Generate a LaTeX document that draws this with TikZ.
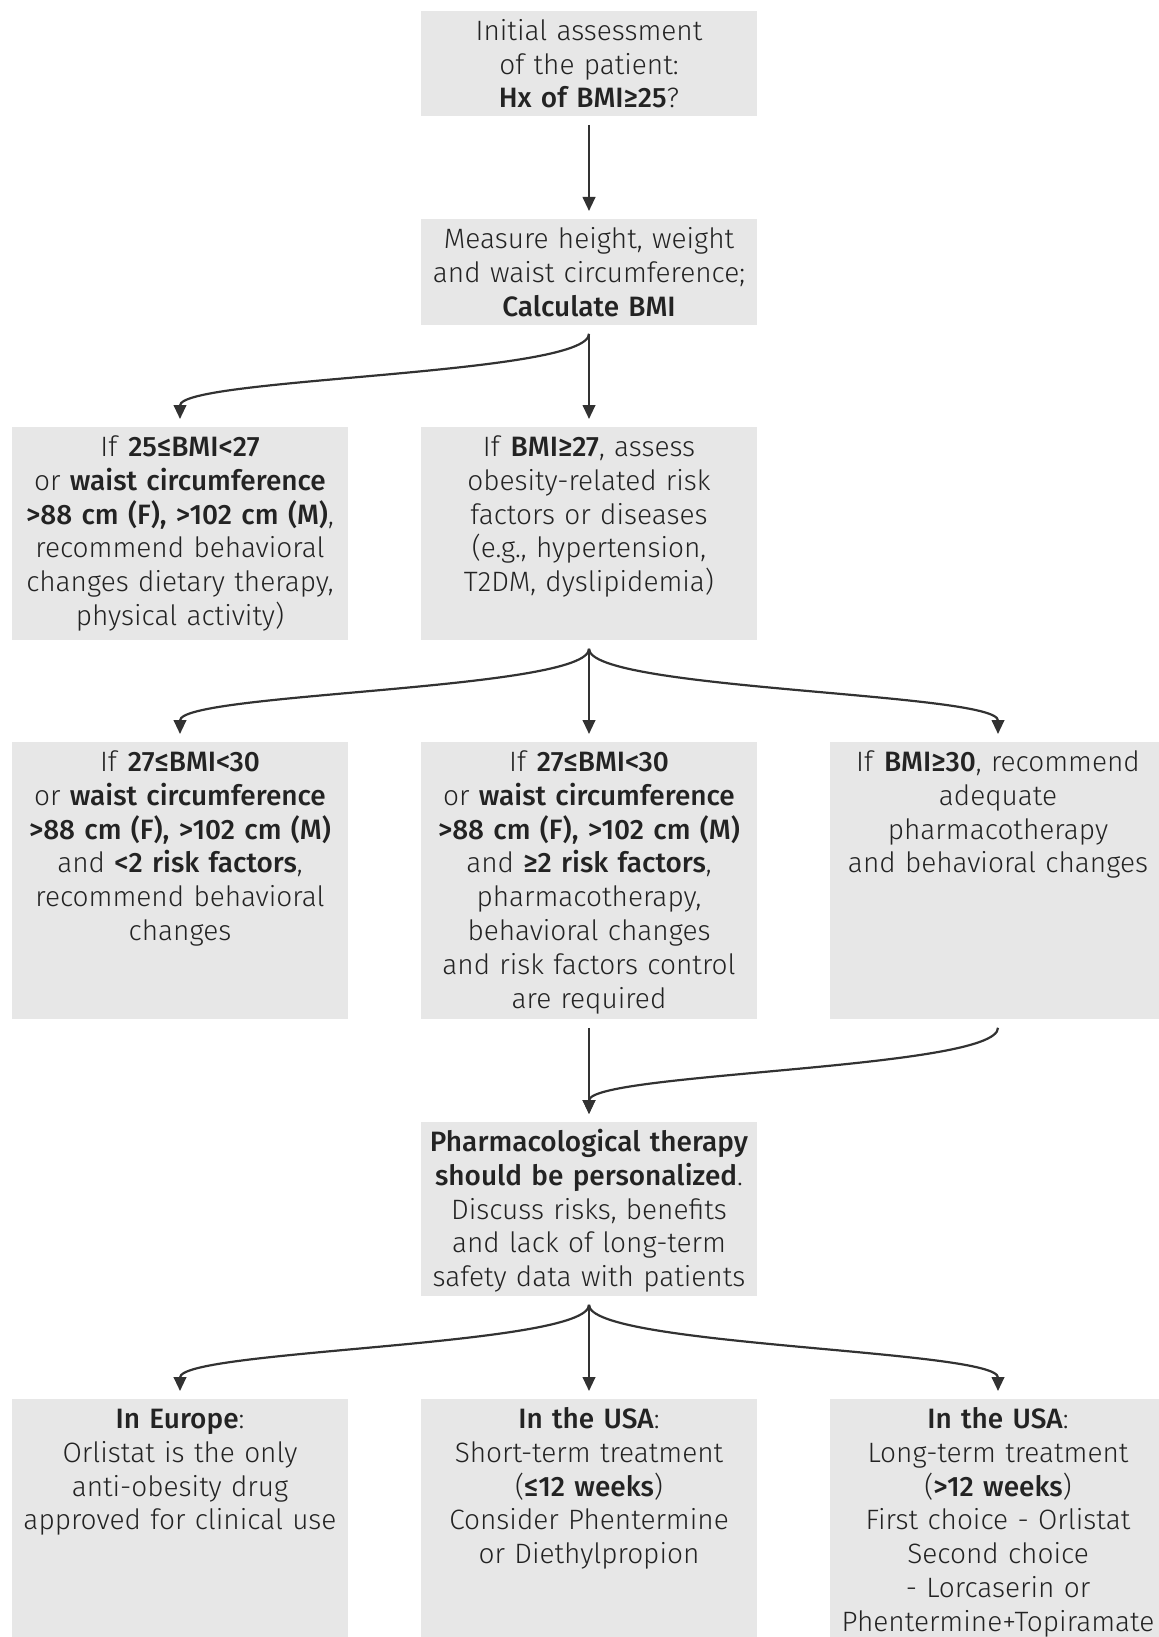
\documentclass[tikz,border=0pt]{standalone}
\usepackage{fontspec}
\setmainfont{Fira Sans Light}[BoldFont={Fira Sans Medium}]
\usetikzlibrary{arrows.meta}
\definecolor{boxgray}{RGB}{231, 231, 231}
\definecolor{inkgray}{RGB}{35, 35, 35}
\definecolor{linegray}{RGB}{50, 50, 50}

\begin{document}
\begin{tikzpicture}[x=0.5pt, y=-0.5pt,
  stepbox/.style={fill=boxgray, anchor=north, inner xsep=-16pt, inner ysep=0pt,
    minimum width=168pt, text width=200pt, align=center, text=inkgray,
    font=\fontsize{14pt}{16.9pt}\selectfont, text height=14.5pt},
  flow/.style={draw=linegray, line width=1.1pt, -{Triangle[width=6.3pt, length=7pt]},
    shorten <=4pt, shorten >=4pt},
  curvearrow/.style={flow, out=-90, in=90, looseness=0.3}]
  \useasboundingbox (0, 0) rectangle (1158, 1637);

  % First checks
  \node[stepbox, text depth=38pt] (assess) at (589, 11) {Initial assessment\\ of the patient:\\ \textbf{Hx of BMI≥25}?};
  \node[stepbox, text depth=38.5pt] (measure) at (589, 219) {Measure height, weight\\ and waist circumference;\\ \textbf{Calculate BMI}};

  % BMI split
  \node[stepbox, text depth=92pt] (overweight) at (180, 427) {If \textbf{25≤BMI<27}\\ or \textbf{waist circumference}\\ \textbf{>88 cm (F), >102 cm (M)},\\ recommend behavioral\\ changes dietary therapy,\\ physical activity)};
  \node[stepbox, text depth=92pt] (riskcheck) at (589, 427) {If \textbf{BMI≥27}, assess\\ obesity-related risk\\ factors or diseases\\ (e.g., hypertension,\\ T2DM, dyslipidemia)};

  % Risk factor split
  \node[stepbox, text depth=124pt] (lowrisk) at (180, 742) {If \textbf{27≤BMI<30}\\ or \textbf{waist circumference}\\ \textbf{>88 cm (F), >102 cm (M)}\\ and \textbf{<2 risk factors},\\ recommend behavioral\\ changes};
  \node[stepbox, text depth=124pt] (highrisk) at (589, 742) {If \textbf{27≤BMI<30}\\ or \textbf{waist circumference}\\ \textbf{>88 cm (F), >102 cm (M)}\\ and \textbf{≥2 risk factors},\\ pharmacotherapy,\\ behavioral changes\\ and risk factors control\\ are required};
  \node[stepbox, text depth=124pt] (obese) at (998, 742) {If \textbf{BMI≥30}, recommend\\ adequate\\ pharmacotherapy\\ and behavioral changes};

  % Therapy
  \node[stepbox, text depth=72.5pt] (personal) at (589, 1122) {\textbf{Pharmacological therapy}\\ \textbf{should be personalized}.\\ Discuss risks, benefits\\ and lack of long-term\\ safety data with patients};

  \node[stepbox, text depth=110pt] (europe) at (180, 1399) {\textbf{In Europe}:\\ Orlistat is the only\\ anti-obesity drug\\ approved for clinical use};
  \node[stepbox, text depth=110pt] (shortterm) at (589, 1399) {\textbf{In the USA}:\\ Short-term treatment\\ (\textbf{≤12 weeks})\\ Consider Phentermine\\ or Diethylpropion};
  \node[stepbox, text depth=110pt] (longterm) at (998, 1399) {\textbf{In the USA}:\\ Long-term treatment\\ (\textbf{>12 weeks})\\ First choice - Orlistat\\ Second choice\\ - Lorcaserin or\\ Phentermine+Topiramate};

  % Arrows
  \draw[flow] (assess.south) -- (measure.north);
  \draw[curvearrow] (measure.south) to (overweight.north);
  \draw[flow] (measure.south) -- (riskcheck.north);
  \draw[curvearrow] (riskcheck.south) to (lowrisk.north);
  \draw[flow] (riskcheck.south) -- (highrisk.north);
  \draw[curvearrow] (riskcheck.south) to (obese.north);
  \draw[flow] (highrisk.south) -- (personal.north);
  \draw[curvearrow] (obese.south) to (personal.north);
  \draw[curvearrow] (personal.south) to (europe.north);
  \draw[flow] (personal.south) -- (shortterm.north);
  \draw[curvearrow] (personal.south) to (longterm.north);
\end{tikzpicture}
\end{document}
